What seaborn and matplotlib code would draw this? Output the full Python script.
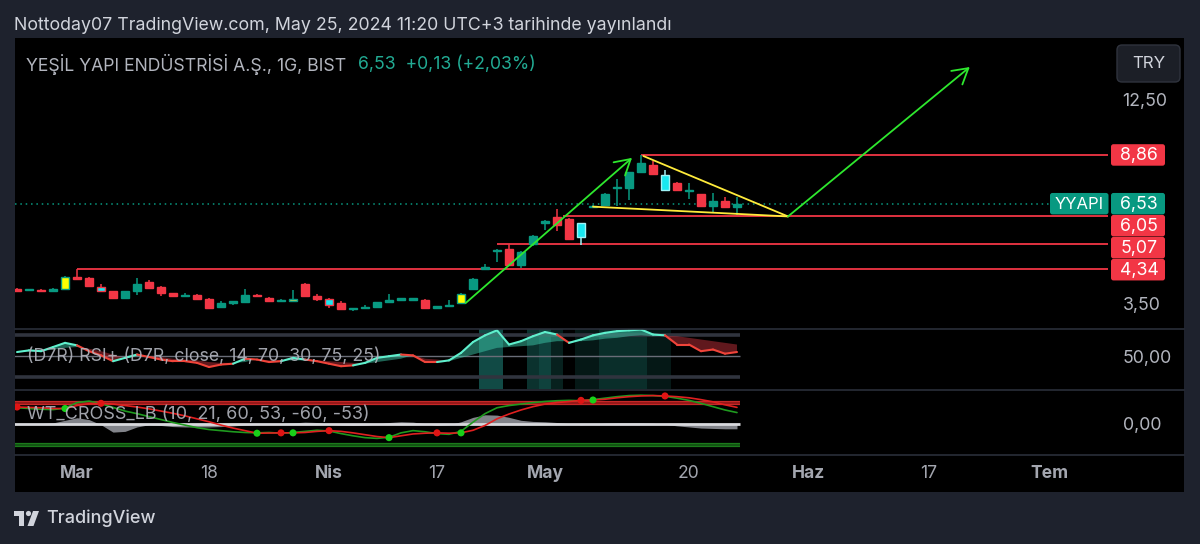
import numpy as np
import matplotlib
matplotlib.use("Agg")
import matplotlib.pyplot as plt
import seaborn as sns
from matplotlib.transforms import Affine2D
from matplotlib.patches import FancyBboxPatch, Rectangle, Circle, Polygon
from matplotlib.lines import Line2D
from matplotlib.ticker import NullLocator, NullFormatter

# ---------------- data (daily bars, Feb 23 -> May 24 2024, BIST holidays skipped) ----------------
opens = [3.83, 3.80, 3.81, 3.77, 3.83, 4.13, 4.11, 3.88, 3.77, 3.61,
         3.77, 3.99, 3.88, 3.73, 3.66, 3.68, 3.60, 3.42, 3.51, 3.53,
         3.68, 3.62, 3.55, 3.56, 3.95, 3.66, 3.60, 3.50, 3.37, 3.40,
         3.42, 3.53, 3.58, 3.58, 3.58, 3.41, 3.44, 3.50, 3.84, 4.35,
         4.85, 4.93, 4.44, 5.06, 5.80, 6.00, 5.94, 5.29, 6.38, 6.48,
         7.20, 7.21, 7.98, 8.32, 7.82, 7.44, 7.05, 6.94, 6.44, 6.63,
         6.40]
highs = [3.85, 3.84, 3.84, 3.86, 4.15, 4.34, 4.13, 3.96, 3.79, 3.78,
         4.10, 4.05, 3.90, 3.74, 3.73, 3.70, 3.62, 3.55, 3.56, 3.82,
         3.71, 3.64, 3.59, 3.81, 3.97, 3.70, 3.62, 3.56, 3.40, 3.46,
         3.54, 3.70, 3.63, 3.61, 3.59, 3.45, 3.58, 3.73, 4.09, 4.47,
         4.92, 5.07, 4.86, 5.37, 5.88, 6.30, 5.97, 5.77, 6.48, 6.98,
         7.62, 7.97, 8.86, 8.55, 8.05, 7.47, 7.43, 6.96, 7.00, 6.83,
         6.83]
lows = [3.75, 3.79, 3.76, 3.76, 3.82, 4.07, 3.89, 3.77, 3.60, 3.60,
        3.69, 3.85, 3.66, 3.65, 3.65, 3.58, 3.38, 3.41, 3.47, 3.52,
        3.65, 3.55, 3.52, 3.55, 3.64, 3.55, 3.41, 3.37, 3.34, 3.38,
        3.41, 3.52, 3.56, 3.55, 3.39, 3.40, 3.43, 3.49, 3.83, 4.33,
        4.52, 4.42, 4.36, 5.02, 5.55, 5.51, 5.20, 5.05, 6.35, 6.45,
        6.42, 6.70, 7.90, 7.80, 7.05, 7.08, 6.73, 6.40, 6.15, 6.40,
        6.08]
closes = [3.79, 3.82, 3.77, 3.83, 4.12, 4.08, 3.90, 3.78, 3.61, 3.77,
          3.96, 3.86, 3.73, 3.66, 3.67, 3.59, 3.40, 3.51, 3.52, 3.68,
          3.66, 3.56, 3.56, 3.58, 3.66, 3.59, 3.47, 3.38, 3.39, 3.42,
          3.53, 3.58, 3.60, 3.59, 3.40, 3.43, 3.46, 3.70, 4.08, 4.40,
          4.90, 4.44, 4.84, 5.34, 5.86, 5.70, 5.22, 5.77, 6.45, 6.96,
          7.24, 7.95, 8.40, 7.84, 7.13, 7.12, 7.13, 6.44, 6.63, 6.40,
          6.53]

rsi = [55, 57, 56, 61, 66, 63, 56, 51, 44, 48,
       52, 49, 46, 44, 44, 42, 37, 40, 41, 47,
       46, 43, 44, 48, 46, 44, 41, 38, 39, 42,
       48, 50, 52, 51, 43, 43, 45, 54, 67, 75,
       81, 64, 68, 74, 79, 76, 66, 70, 75, 78,
       80, 81, 82, 76, 75, 64, 64, 56, 58, 53,
       55]
rsi_signal = [55, 56, 56, 58, 60, 61, 59, 56, 52, 47.5,
              50, 50, 49, 47, 46, 45, 43, 42, 42, 43,
              46.5, 45, 45, 45, 45, 45, 44, 43, 42, 41,
              43, 45, 47, 51.5, 47, 46, 44, 48, 52, 56,
              60, 61, 62, 63, 66, 68, 68, 68, 69, 71,
              72, 74, 75, 74, 74.5, 74, 72, 70, 68, 66,
              64]
rsi_zone_bars = [39, 40, 43, 44, 45, 47, 48, 49, 50, 51, 52, 53, 54]
rsi_zone_strength = [0.45, 0.45, 0.30, 0.40, 0.20, 0.15, 0.15, 0.28, 0.28, 0.28, 0.28, 0.15, 0.15]

wt1 = [44, 42, 40, 39, 43, 58, 62, 55, 45, 35,
       28, 20, 12, 4, -3, -10, -15, -18, -21, -23,
       -24, -23, -25, -23, -20, -17, -19, -26, -32, -37,
       -39, -36, -24, -18, -21, -26, -28, -20, 5, 28,
       44, 50, 54, 58, 61, 63, 64, 63, 66, 70,
       74, 77, 78, 77, 75, 70, 64, 56, 47, 38,
       31]
wt2 = [46, 45, 44, 42, 42, 50, 55, 56, 54, 50,
       46, 41, 35, 29, 22, 14, 6, -3, -11, -18,
       -25, -24.5, -24, -24, -23, -20, -18, -20, -24, -29,
       -34, -37, -32, -27, -25, -24, -25, -24, -17, -4,
       14, 27, 38, 47, 54, 58, 61, 64, 65, 67,
       71, 74, 76, 77, 76, 74, 71, 66, 60, 52,
       45]
wt_hist = [0, 0, 1, 3, 10, 17, 12, -2, -22, -20,
           -8, -2, -4, -7, -8, -8, -8, -7, -5, -3,
           -1, 0, 1, 3, 5, 4, 0, -3, -4, -3,
           0, 4, 6, 5, 1, -4, -2, 6, 18, 25,
           24, 18, 10, 7, 6, 4, 1, -2, 0, 2,
           3, 3, 3, 2, -1, -5, -8, -11, -12, -13,
           -13]
cross_bars = [0, 4, 7, 20, 22, 23, 26, 31, 35, 37, 47, 48, 54]

tick_pos = [5, 16, 26, 35, 44, 56, 66, 76, 86]
tick_labels = ["Mar", "18", "Nis", "17", "May", "20", "Haz", "17", "Tem"]
month_labels = ["Mar", "Nis", "May", "Haz", "Tem"]

level_prices = [8.86, 6.05, 5.07, 4.34]
level_labels = ["8,86", "6,05", "5,07", "4,34"]
level_start = [52, 45.5, 40, 5]
last_price = 6.53
last_label = "6,53"
price_ticks = [3.5, 12.5]
price_tick_labels = ["3,50", "12,50"]

up_arrow = [(37.4, 3.51), (51.25, 8.70)]
target_arrow = [(64.25, 6.03), (79.4, 15.36)]
wedge_upper = [(52.2, 8.80), (64.25, 6.03)]
wedge_lower = [(48.0, 6.41), (64.25, 6.03)]

# ---------------- style ----------------
UP = "#089981"
DN = "#f23645"
FRAME = "#1e222d"
TXT = "#b2b5be"
SEP = "#2a2e39"
highlight_face = {4: "#ffff00", 23: "#d4e157", 37: "#ffff00",
                  7: "#18e8f0", 26: "#18e8f0", 47: "#18e8f0", 54: "#18e8f0"}
highlight_edge = {47: "#9ff3f7", 54: "#9ff3f7"}

sns.set_theme(style="dark")
plt.rcParams["font.family"] = ["Inter", "DejaVu Sans"]
plt.rcParams["axes.unicode_minus"] = False

W, H = 1200, 544
fig = plt.figure(figsize=(W / 100, H / 100), dpi=100, facecolor=FRAME)
P = Affine2D().scale(1, -1).translate(0, H)  # pixel coords, origin top-left


def fbox(x0, y0, x1, y1):
    return [x0 / W, 1 - y1 / H, (x1 - x0) / W, (y1 - y0) / H]


def clean(a):
    a.set_facecolor("none")
    a.patch.set_visible(False)
    for s in a.spines.values():
        s.set_visible(False)
    a.grid(False)
    a.set_xticks([])


XLIM = (-0.17, 90.92)
FS = 12.8

# black chart panel
bg = fig.add_axes(fbox(15, 38, 1184, 492), zorder=-5)
bg.set_facecolor("black")
bg.set_xticks([]); bg.set_yticks([])
for s in bg.spines.values():
    s.set_visible(False)

# ---------------- main price pane ----------------
ax = fig.add_axes(fbox(15, 40, 1108, 328))
clean(ax)
ax.set_yscale("log")
ax.set_xlim(*XLIM)
ax.set_ylim(3.0, 18.19)
ax.yaxis.tick_right()
ax.yaxis.set_minor_locator(NullLocator())
ax.yaxis.set_minor_formatter(NullFormatter())
ax.set_yticks(price_ticks)
ax.set_yticklabels(price_tick_labels)
ax.tick_params(axis="y", length=0, pad=10.5, labelcolor=TXT, labelsize=FS)

n = len(closes)
x = np.arange(n)
o = np.array(opens); c = np.array(closes)
hi = np.array(highs); lo = np.array(lows)
is_up = c >= o
body_lo = np.minimum(o, c)
body_hi = np.maximum(np.maximum(o, c), body_lo * 1.009)
base = np.where(is_up, UP, DN)
face = [highlight_face.get(i, base[i]) for i in range(n)]
edge = [highlight_edge.get(i, base[i]) for i in range(n)]

# price levels
for p, s0 in zip(level_prices, level_start):
    ax.hlines(p, s0, XLIM[1], color=DN, lw=1.3, zorder=1)
ax.axhline(last_price, color=UP, lw=1.1, ls=(0, (1, 2.5)), zorder=1)

ax.vlines(x, lo, hi, colors=edge, lw=1.1, zorder=2)
ax.bar(x, body_hi - body_lo, bottom=body_lo, width=0.68, color=face,
       edgecolor=edge, linewidth=1.0, zorder=3)

# drawings
for (xa, ya), (xb, yb) in [wedge_upper, wedge_lower]:
    ax.plot([xa, xb], [ya, yb], color="#ffeb3b", lw=1.3, zorder=4)
for (s, e) in [up_arrow, target_arrow]:
    ax.annotate("", xy=e, xytext=s, xycoords="data",
                arrowprops=dict(arrowstyle="->,head_length=0.6,head_width=0.35",
                                color="#2ee82e", lw=1.3, mutation_scale=18,
                                shrinkA=0, shrinkB=0), zorder=5)

# header inside the pane
fig.text(26, 64, "YEŞİL YAPI ENDÜSTRİSİ A.Ş., 1G, BIST", transform=P,
         color=TXT, fontsize=12.7, va="center", ha="left")
fig.text(358, 64, "6,53  +0,13 (+2,03%)", transform=P,
         color="#22ab94", fontsize=12.7, va="center", ha="left")

# top caption
fig.text(14, 25, "Nottoday07 TradingView.com, May 25, 2024 11:20 UTC+3 tarihinde yayınlandı",
         transform=P, color="#d1d4dc", fontsize=12.8, va="center", ha="left")

# TRY button
fig.add_artist(FancyBboxPatch((1117, 45), 63, 37, boxstyle="round,pad=0,rounding_size=5",
                              transform=P, fc="#1c1f27", ec="#2f333d", lw=1))
fig.text(1148.5, 63.5, "TRY", transform=P, color="#d1d4dc", fontsize=12.2,
         ha="center", va="center")


# price axis labels (pushed apart like TradingView)
def ypx(axis, val):
    return H - axis.transData.transform((0, val))[1]


entries = [(last_price, last_label, UP)] + [(p, l, DN) for p, l in zip(level_prices, level_labels)]
entries.sort(key=lambda e: -e[0])
bh = 21.5
prev_bottom = -1e9
for p, lab, col in entries:
    cy = max(ypx(ax, p), prev_bottom + bh / 2 + 0.5)
    prev_bottom = cy + bh / 2
    fig.add_artist(FancyBboxPatch((1111, cy - bh / 2), 54, bh,
                                  boxstyle="round,pad=0,rounding_size=2.5",
                                  transform=P, fc=col, ec="none"))
    fig.text(1139, cy + 0.5, lab, transform=P, color="white", fontsize=FS,
             ha="center", va="center")
    if lab == last_label:
        fig.add_artist(FancyBboxPatch((1050, cy - bh / 2), 58.5, bh,
                                      boxstyle="round,pad=0,rounding_size=2.5",
                                      transform=P, fc=col, ec="none"))
        fig.text(1079.5, cy + 0.5, "YYAPI", transform=P, color="white",
                 fontsize=12.0, ha="center", va="center")

# ---------------- RSI pane ----------------
axr = fig.add_axes(fbox(15, 329, 1108, 389))
clean(axr)
axr.set_xlim(*XLIM)
axr.set_ylim(10.7, 82.6)
axr.yaxis.tick_right()
axr.set_yticks([50])
axr.set_yticklabels(["50,00"])
axr.tick_params(axis="y", length=0, pad=10.5, labelcolor=TXT, labelsize=FS)

for b, a in zip(rsi_zone_bars, rsi_zone_strength):
    axr.axvspan(b - 0.5, b + 0.5, color="#26a69a", alpha=a, lw=0, zorder=0)
last_x = n - 1 + 0.25
axr.hlines([75, 25], -1, last_x, color="#30343e", lw=2.6, zorder=1)
axr.hlines(50, -1, last_x, color="#6a6d78", lw=1.0, zorder=1)

r = np.array(rsi, float)
sg = np.array(rsi_signal, float)
axr.fill_between(x, r, sg, where=r >= sg, interpolate=True, color="#3cc7a8",
                 alpha=0.5, lw=0, zorder=2)
axr.fill_between(x, r, sg, where=r < sg, interpolate=True, color="#c0303a",
                 alpha=0.5, lw=0, zorder=2)
for k in range(n - 1):
    col = "#5ff0cd" if r[k + 1] >= sg[k + 1] else "#f0443a"
    axr.plot([x[k], x[k + 1]], [r[k], r[k + 1]], color=col, lw=1.5,
             solid_capstyle="round", zorder=3)
axr.text(27, 356, "(D7R) RSI+ (D7R, close, 14, 70, 30, 75, 25)",
         transform=P, color=TXT, alpha=0.9, fontsize=FS, va="center", ha="left", zorder=6)

# ---------------- WT cross pane ----------------
axw = fig.add_axes(fbox(15, 391, 1108, 454))
clean(axw)
axw.set_xlim(*XLIM)
axw.set_ylim(-81.3, 89.4)
axw.yaxis.tick_right()
axw.set_yticks([0])
axw.set_yticklabels(["0,00"])
axw.tick_params(axis="y", length=0, pad=10.5, labelcolor=TXT, labelsize=FS)

axw.hlines([60, 53], -1, last_x, color="#c62828", lw=1.6, zorder=1)
axw.fill_between([-1, last_x], 53, 60, color="#7a1010", alpha=0.6, lw=0, zorder=1)
axw.hlines([-53, -60], -1, last_x, color="#1b7a1b", lw=1.6, zorder=1)
axw.fill_between([-1, last_x], -60, -53, color="#0d3f0d", alpha=0.6, lw=0, zorder=1)

hst = np.array(wt_hist, float)
axw.fill_between(x, 0, hst, color="#9a9ca3", alpha=0.85, lw=0, zorder=2)
axw.hlines(0, -1, last_x, color="#d8d9dd", lw=2.0, zorder=2)
sns.lineplot(x=x, y=np.array(wt1, float), ax=axw, color="#1f9a1f", lw=1.2, zorder=3)
sns.lineplot(x=x, y=np.array(wt2, float), ax=axw, color="#e02020", lw=1.2, zorder=3)
w1 = np.array(wt1, float); w2 = np.array(wt2, float)
cb = np.array(cross_bars)
dot_col = np.where(w1[cb] > w2[cb], "#19d019", "#e01414")
axw.scatter(cb, w2[cb], s=26, c=dot_col, zorder=4, linewidths=0)
axw.set_xlabel(""); axw.set_ylabel("")
axw.text(27, 414, "WT_CROSS_LB (10, 21, 60, 53, -60, -53)", transform=P,
         color=TXT, alpha=0.9, fontsize=13.0, va="center", ha="left", zorder=6)

# ---------------- time axis ----------------
axt = fig.add_axes(fbox(15, 455, 1108, 492))
clean(axt)
axt.set_xlim(*XLIM)
axt.set_ylim(0, 1)
axt.set_yticks([])
for pos, lab in zip(tick_pos, tick_labels):
    axt.text(pos, 0.49, lab, ha="center", va="center", color="#a3a6af",
             fontsize=12.6, fontweight="bold" if lab in month_labels else "normal")

# pane separators
for yy in (328.5, 390, 455):
    fig.add_artist(Line2D([15, 1184], [yy, yy], transform=P, color=SEP, lw=1.2))

# ---------------- footer logo ----------------
LC = "#d1d4dc"
fig.add_artist(Rectangle((14, 511), 10, 4.5, transform=P, fc=LC, ec="none"))
fig.add_artist(Rectangle((19, 511), 5, 15, transform=P, fc=LC, ec="none"))
fig.add_artist(Circle((28.5, 513.5), 2.6, transform=P, fc=LC, ec="none"))
fig.add_artist(Polygon([(33, 511), (39, 511), (33.5, 526), (27.5, 526)], closed=True,
                       transform=P, fc=LC, ec="none"))
fig.text(46, 518.5, "TradingView", transform=P, color=LC, fontsize=13,
         ha="left", va="center", fontweight="medium")

fig.savefig("out.png", dpi=100, facecolor=FRAME)
